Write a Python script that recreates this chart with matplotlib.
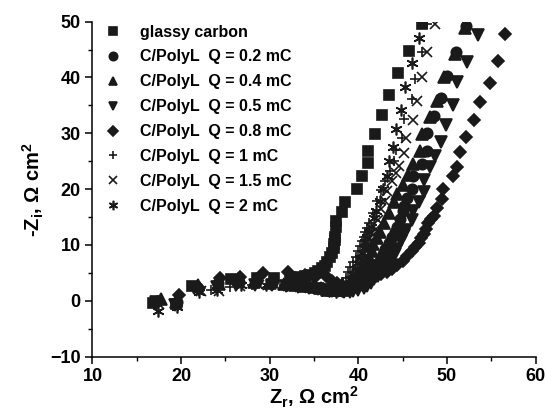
import numpy as np
import matplotlib.pyplot as plt
from matplotlib.ticker import MultipleLocator

plt.rcParams['font.family'] = ['Liberation Sans', 'DejaVu Sans']
plt.rcParams['font.weight'] = 'bold'
plt.rcParams['mathtext.fontset'] = 'custom'
plt.rcParams['mathtext.rm'] = 'Liberation Sans:bold'
plt.rcParams['mathtext.bf'] = 'Liberation Sans:bold'
plt.rcParams['mathtext.default'] = 'bf'

# Nyquist data: Z_r, -Z_i (Ohm cm^2)
gc_x = [16.8, 19.4, 21.2, 25.6, 28.6, 30.5, 32.3, 33.3, 34.0, 34.6, 35.1, 35.5, 35.9, 36.2,
        36.5, 36.8, 37.0, 37.2, 37.3, 37.4, 37.4, 37.5, 37.5, 38.1, 38.5, 39.8, 40.4, 41.1,
        41.1, 41.9, 42.7, 43.4, 44.5, 45.7, 47.15]
gc_y = [-0.4, -0.6, 2.6, 3.9, 4.0, 4.0, 4.2, 4.3, 4.5, 4.7, 5.0, 5.3, 5.8, 6.3,
        7.0, 7.8, 8.6, 9.4, 10.2, 10.8, 11.4, 13.2, 14.2, 15.9, 17.75, 20.1, 22.3, 24.6,
        26.9, 29.9, 33.25, 36.9, 40.75, 44.8, 49.6]

q02_x = [17.3, 19.5, 21.8, 24.2, 26.5, 28.5, 30.3, 31.8, 33.0, 34.1, 35.0, 35.8, 36.5, 37.1,
         37.7, 38.3, 38.8, 39.3, 39.8, 40.2, 40.6, 41.0, 41.4, 41.8, 42.2, 42.6, 42.8, 43.0,
         43.4, 43.8, 44.1, 44.4, 44.7, 45.0, 45.2, 45.5, 46.0, 46.2, 47.15, 47.8, 47.8, 48.5,
         49.3, 50.0, 51.0, 52.2]
q02_y = [0.0, -0.3, 2.4, 3.2, 3.4, 3.3, 3.2, 3.0, 2.9, 2.7, 2.5, 2.3, 2.1, 2.0,
         1.9, 1.9, 2.0, 2.2, 2.6, 3.2, 3.9, 4.5, 5.1, 5.8, 6.7, 7.6, 8.4, 9.2,
         10.3, 11.4, 12.3, 13.25, 14.6, 16.0, 16.9, 18.4, 20.1, 22.3, 24.5, 26.9, 30.0, 33.1,
         36.4, 40.25, 44.5, 49.2]

q04_x = [17.7, 19.4, 21.9, 24.3, 26.4, 28.2, 30.0, 31.6, 32.9, 34.0, 35.0, 35.8, 36.5, 37.1,
         37.6, 38.1, 38.6, 39.0, 39.4, 39.8, 40.2, 40.6, 40.9, 41.2, 41.5, 41.7, 42.1, 42.4,
         42.9, 43.4, 44.0, 44.4, 45.0, 45.6, 46.2, 46.9, 47.15, 48.1, 48.9, 49.7, 50.9, 52.0]
q04_y = [0.25, -0.3, 2.9, 3.0, 3.9, 3.4, 3.2, 3.0, 2.8, 2.6, 2.4, 2.2, 2.0, 1.9,
         1.9, 2.0, 2.5, 3.25, 3.9, 4.5, 5.4, 6.4, 7.2, 7.9, 9.0, 10.1, 11.2, 12.3,
         13.9, 15.75, 17.6, 19.2, 20.75, 22.6, 24.5, 26.9, 29.8, 32.9, 35.75, 40.0, 44.2, 48.9]

q05_x = [17.2, 19.3, 21.5, 24.0, 26.2, 28.3, 30.2, 31.8, 33.2, 34.4, 35.4, 36.3, 37.0, 37.7,
         38.4, 39.0, 39.4, 40.0, 40.6, 41.0, 41.4, 41.8, 42.2, 42.6, 43.0, 43.4, 43.8, 44.1,
         44.4, 44.8, 45.1, 45.4, 46.0, 46.2, 46.8, 47.35, 47.35, 48.1, 48.7, 49.3, 49.9, 50.7,
         51.1, 52.3, 53.5]
q05_y = [-0.3, -0.7, 2.2, 2.5, 2.8, 2.9, 2.8, 2.7, 2.5, 2.3, 2.1, 1.9, 1.8, 1.7,
         1.6, 1.6, 1.7, 2.0, 2.3, 2.7, 3.25, 3.9, 4.5, 5.1, 5.75, 6.6, 7.6, 8.4,
         9.2, 10.75, 11.7, 12.6, 14.5, 16.0, 17.6, 19.5, 21.7, 23.9, 25.9, 28.4, 31.5, 35.1,
         39.2, 42.75, 47.6]

q08_x = [19.8, 22.0, 24.4, 26.6, 29.2, 32.1, 34.0, 35.1, 36.3, 37.0, 37.6, 38.2, 38.8, 39.3,
         39.8, 40.2, 40.6, 41.0, 41.4, 42.0, 42.6, 43.2, 43.8, 44.4, 45.0, 45.5, 46.0, 46.4,
         46.8, 47.1, 47.35, 47.6, 47.9, 48.2, 48.5, 48.9, 49.4, 49.5, 50.7, 51.1, 51.5, 52.1,
         53.1, 53.7, 54.8, 55.7, 56.6]
q08_y = [1.1, 2.2, 4.1, 4.3, 4.9, 5.1, 4.6, 4.2, 4.5, 3.6, 3.1, 2.8, 2.7, 2.8,
         3.1, 3.3, 3.6, 3.9, 4.2, 4.5, 4.8, 5.2, 5.75, 6.4, 7.1, 8.0, 8.9, 9.6,
         10.4, 11.2, 12.0, 12.9, 13.9, 14.6, 15.25, 16.7, 18.25, 20.1, 22.3, 24.0, 26.7, 29.3,
         32.4, 35.6, 39.0, 42.9, 47.8]

q1_x = [17.3, 19.6, 22.0, 23.4, 25.5, 28.0, 30.1, 31.6, 32.9, 34.0, 34.9, 35.7, 36.4, 37.0,
        37.5, 37.9, 38.3, 38.6, 38.85, 39.1, 39.4, 39.7, 40.0, 40.2, 40.4, 40.6, 40.8, 41.0,
        41.2, 41.7, 42.1, 42.5, 43.0, 43.6, 44.0, 44.3, 44.9, 45.2, 46.0, 46.4, 47.15, 47.8]
q1_y = [-0.5, -0.9, 1.8, 2.0, 2.5, 2.9, 3.0, 2.9, 2.8, 2.6, 2.4, 2.2, 2.1, 2.1,
        2.3, 2.7, 3.3, 4.1, 5.1, 6.0, 7.0, 7.9, 8.9, 9.8, 10.75, 11.5, 12.3, 13.1,
        13.9, 15.75, 17.9, 19.8, 21.4, 23.25, 25.1, 27.0, 29.2, 32.6, 36.1, 39.8, 44.5, 49.6]

q15_x = [17.5, 19.5, 22.3, 24.3, 26.7, 28.8, 30.6, 32.1, 33.4, 34.5, 35.4, 36.2, 36.9, 37.5,
         38.0, 38.5, 39.0, 39.4, 39.8, 40.1, 40.4, 40.6, 40.8, 41.0, 41.2, 41.4, 41.7, 42.0,
         42.2, 42.6, 43.0, 43.2, 43.8, 44.2, 44.6, 45.2, 45.4, 46.2, 46.6, 47.15, 47.7, 48.7]
q15_y = [-0.6, -0.8, 1.7, 1.8, 2.6, 2.75, 2.8, 2.7, 2.5, 2.3, 2.1, 1.9, 1.8, 1.8,
         1.9, 2.1, 2.4, 2.9, 3.6, 4.3, 5.1, 6.0, 7.0, 8.9, 9.8, 10.75, 11.8, 12.9,
         14.5, 16.4, 17.9, 19.6, 21.4, 22.9, 24.2, 26.4, 29.2, 32.3, 35.75, 40.0, 44.6, 49.5]

q2_x = [17.4, 19.5, 22.05, 24.1, 26.8, 29.6, 31.9, 33.9, 35.0, 35.9, 36.7, 37.5, 38.1, 38.65,
        39.05, 39.3, 39.6, 39.9, 40.2, 40.4, 40.6, 40.8, 41.0, 41.2, 41.4, 41.8, 42.0, 42.4,
        42.8, 43.2, 43.5, 43.9, 44.3, 44.8, 45.3, 46.0, 46.8]
q2_y = [-1.9, -1.1, 1.5, 1.9, 2.75, 2.9, 2.9, 2.6, 2.3, 2.0, 1.8, 1.6, 1.8, 2.6,
        3.9, 4.8, 5.75, 6.7, 7.6, 8.5, 9.5, 10.5, 11.4, 12.3, 13.25, 14.8, 16.0, 17.9,
        20.1, 22.3, 25.0, 27.6, 30.75, 34.2, 38.25, 42.6, 47.1]

labels = ['glassy carbon', 'C/PolyL  Q = 0.2 mC', 'C/PolyL  Q = 0.4 mC', 'C/PolyL  Q = 0.5 mC',
          'C/PolyL  Q = 0.8 mC', 'C/PolyL  Q = 1 mC', 'C/PolyL  Q = 1.5 mC', 'C/PolyL  Q = 2 mC']
series = [(gc_x, gc_y), (q02_x, q02_y), (q04_x, q04_y), (q05_x, q05_y),
          (q08_x, q08_y), (q1_x, q1_y), (q15_x, q15_y), (q2_x, q2_y)]
markers = ['s', 'o', '^', 'v', 'D', '+', 'x', (6, 2, 0)]
sizes = [6.5, 7.5, 8, 8, 6.5, 7.5, 7.5, 8.5]

ink = '#1a1a1a'
fig = plt.figure(figsize=(5.45, 4.12), dpi=100)
ax = fig.add_axes([0.1697, 0.1345, 0.8131, 0.8131])

for (xs, ys), m, s, lab in zip(series, markers, sizes, labels):
    ax.plot(xs, ys, linestyle='none', marker=m, markersize=s, color=ink,
            markeredgewidth=1.2, label=lab)

ax.set_xlim(10, 60)
ax.set_ylim(-10, 50)
ax.xaxis.set_major_locator(MultipleLocator(10))
ax.xaxis.set_minor_locator(MultipleLocator(5))
ax.yaxis.set_major_locator(MultipleLocator(10))
ax.yaxis.set_minor_locator(MultipleLocator(5))
ax.tick_params(which='major', direction='out', length=5, width=1.1, labelsize=13)
ax.tick_params(which='minor', direction='out', length=3, width=1)
for side in ['top', 'right']:
    ax.spines[side].set_visible(False)
for side in ['left', 'bottom']:
    ax.spines[side].set_linewidth(1.1)

ax.set_xlabel(r'Z$_r$, Ω cm$^2$', fontsize=14.5, fontweight='bold', va='center')
ax.set_ylabel(r'-Z$_i$, Ω cm$^2$', fontsize=14.5, fontweight='bold', va='center')
ax.xaxis.set_label_coords(0.5, -0.122)
ax.yaxis.set_label_coords(-0.134, 0.5)

ax.legend(loc='upper left', bbox_to_anchor=(0.011, 1.015), frameon=False, markerscale=0.8,
          handlelength=1, handletextpad=1.2, labelspacing=0.62, borderpad=0,
          prop={'weight': 'bold', 'size': 11.5})

fig.savefig('out.png', dpi=100)
